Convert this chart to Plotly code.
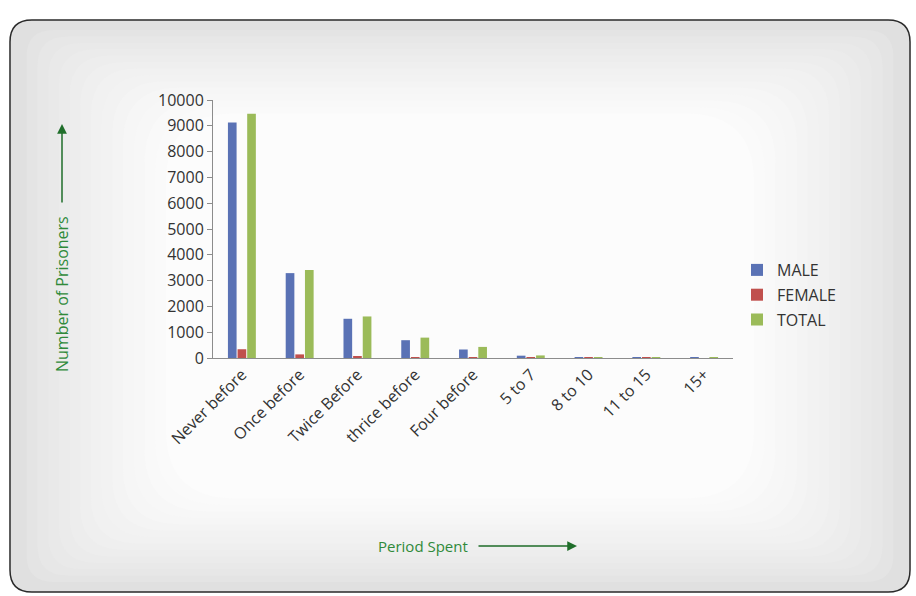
import plotly.graph_objects as go

categories = ["Never before", "Once before", "Twice Before", "thrice before", "Four before",
              "5 to 7", "8 to 10", "11 to 15", "15+"]
male = [9130, 3290, 1520, 690, 330, 90, 25, 10, 5]
female = [340, 140, 60, 30, 15, 5, 2, 1, 0]
total = [9470, 3410, 1610, 790, 430, 100, 30, 12, 6]

series = [("MALE", male, "#5a72b5"), ("FEMALE", female, "#c0504d"), ("TOTAL", total, "#9bbb59")]
green = "#2f8a3a"
font = "Open Sans, Liberation Sans, sans-serif"

W, H = 916, 596
L, R, T, B = 213, 183, 100, 238
pw, ph = W - L - R, H - T - B


def px_x(x):
    return (x - L) / pw


def px_y(y):
    return (H - B - y) / ph


def rounded(x0, y0, x1, y1, r):
    pts = [
        (x0 + r, y0), (x1 - r, y0), (x1, y0), (x1, y0 + r), (x1, y1 - r), (x1, y1),
        (x1 - r, y1), (x0 + r, y1), (x0, y1), (x0, y1 - r), (x0, y0 + r), (x0, y0),
    ]
    p = [f"{px_x(a):.4f},{px_y(b):.4f}" for a, b in pts]
    return (f"M {p[0]} L {p[1]} Q {p[2]} {p[3]} L {p[4]} Q {p[5]} {p[6]} "
            f"L {p[7]} Q {p[8]} {p[9]} L {p[10]} Q {p[11]} {p[0]} Z")


fig = go.Figure()
for name, vals, col in series:
    fig.add_trace(go.Bar(x=categories, y=vals, name=name, marker_color=col,
                         marker_line_width=0, legendgroup=name))

# framed background: dark rounded border, grey edge fading softly to a light centre
fig.add_shape(type="path", path=rounded(10, 20, 910, 592, 22), xref="paper", yref="paper",
              fillcolor="#e0e0e0", line=dict(color="#2a2a2a", width=1.5), layer="below")
steps = 14
for k in range(1, steps + 1):
    f = k / steps
    inset = 6 + 150 * f
    g = int(0xe0 + (0xfc - 0xe0) * f ** 0.7)
    col = f"#{g:02x}{g:02x}{g:02x}"
    fig.add_shape(type="path",
                  path=rounded(10 + inset, 20 + inset * 0.6, 910 - inset, 592 - inset * 0.6,
                               22 + inset * 0.3),
                  xref="paper", yref="paper", fillcolor=col, line=dict(color=col, width=0),
                  layer="below")

fig.update_layout(
    width=W, height=H,
    margin=dict(l=L, r=R, t=T, b=B),
    paper_bgcolor="white", plot_bgcolor="rgba(0,0,0,0)",
    barmode="group", bargap=0.5, bargroupgap=0.1,
    font=dict(family=font, size=16, color="#333333"),
    showlegend=True,
    legend=dict(x=px_x(737), y=px_y(253), xanchor="left", yanchor="top",
                bgcolor="rgba(0,0,0,0)", tracegroupgap=1, itemwidth=30,
                font=dict(size=16, color="#333333")),
    xaxis=dict(tickangle=-45, showline=True, linecolor="#8c8c8c", linewidth=1,
               ticks="", showgrid=False, tickfont=dict(size=16)),
    yaxis=dict(range=[0, 10000], dtick=1000, tickformat="d", showline=True,
               linecolor="#8c8c8c", ticks="outside", ticklen=5, tickcolor="#8c8c8c",
               showgrid=False, zeroline=False, tickfont=dict(size=16)),
)

# axis titles with arrows
fig.add_annotation(text="Number of Prisoners", xref="paper", yref="paper",
                   x=px_x(62), y=px_y(294), xanchor="center", yanchor="middle", textangle=-90,
                   showarrow=False, font=dict(color=green, size=16, family=font))
fig.add_annotation(x=px_x(62), y=px_y(124), xref="paper", yref="paper", ax=0, ay=80,
                   text="", showarrow=True,
                   arrowhead=2, arrowsize=1.3, arrowwidth=1.5, arrowcolor="#1f6e2a")
fig.add_annotation(text="Period Spent", xref="paper", yref="paper",
                   x=px_x(423), y=px_y(546), xanchor="center", yanchor="middle",
                   showarrow=False, font=dict(color=green, size=15, family=font))
fig.add_annotation(x=px_x(577), y=px_y(546), xref="paper", yref="paper", ax=-100, ay=0,
                   text="", showarrow=True,
                   arrowhead=2, arrowsize=1.3, arrowwidth=1.5, arrowcolor="#1f6e2a")

fig.write_html("out.html", config={"displayModeBar": False},
               post_script="document.body.style.margin='0';")
